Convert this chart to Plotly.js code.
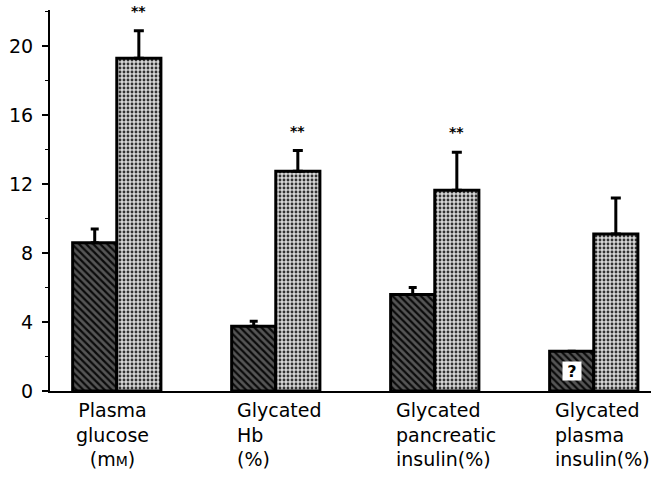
<!DOCTYPE html>
<html>
<head>
<meta charset="utf-8">
<script src="https://cdn.plot.ly/plotly-3.0.1.min.js"></script>
<style>html,body{margin:0;padding:0;background:#fff;}</style>
</head>
<body>
<div id="chart" style="width:651px;height:477px;"></div>
<script>
const categories = ["Plasma glucose", "Glycated Hb", "Glycated pancreatic insulin", "Glycated plasma insulin"];
const categoryLabels = [
  "Plasma<br>glucose<br>(m<span style='font-size:14px'>M</span>)",
  "Glycated<br>Hb<br>(%)",
  "Glycated<br>pancreatic<br>insulin(%)",
  "Glycated<br>plasma<br>insulin(%)"
];
const controlValues = [8.6, 3.75, 5.6, 2.3];
const controlErrors = [0.8, 0.3, 0.4, null];
const diabeticValues = [19.3, 12.75, 11.65, 9.1];
const diabeticErrors = [1.6, 1.2, 2.2, 2.1];
const significance = ["**", "**", "**", ""];
const uncertainMark = ["", "", "", "?"];
const yTicks = [0, 4, 8, 12, 16, 20];

const FONT = "DejaVu Sans, Arial, sans-serif";
const halfBar = 0.139;

const traces = [
  {
    type: "bar", name: "Control", x: categories, y: controlValues,
    marker: {
      color: "#333",
      line: {color: "#000", width: 3},
      pattern: {shape: "\\", bgcolor: "#555", fgcolor: "#0a0a0a", size: 5, solidity: 0.45}
    },
    error_y: {type: "data", symmetric: false, array: controlErrors,
      arrayminus: controlErrors.map(() => 0), color: "#000", thickness: 3, width: 4},
    hoverinfo: "skip"
  },
  {
    type: "bar", name: "Diabetic", x: categories, y: diabeticValues,
    marker: {
      color: "#bbb",
      line: {color: "#000", width: 3},
      pattern: {shape: ".", bgcolor: "#d6d6d6", fgcolor: "#333", size: 4, solidity: 0.4}
    },
    error_y: {type: "data", symmetric: false, array: diabeticErrors,
      arrayminus: diabeticErrors.map(() => 0), color: "#000", thickness: 3, width: 5},
    hoverinfo: "skip"
  }
];

const annotations = [];
categories.forEach((c, i) => {
  if (significance[i]) {
    annotations.push({
      x: i + halfBar, xref: "x", y: diabeticValues[i] + diabeticErrors[i] + 1.15, yref: "y",
      text: "<b>" + significance[i] + "</b>", showarrow: false,
      font: {family: FONT, size: 14, color: "#000"}, yanchor: "middle"
    });
  }
  if (uncertainMark[i]) {
    annotations.push({
      x: i - halfBar, xref: "x", y: controlValues[i] / 2, yref: "y",
      text: "<b>" + uncertainMark[i] + "</b>", showarrow: false,
      bgcolor: "#fff", borderpad: 0, width: 18, height: 18,
      font: {family: FONT, size: 16, color: "#000"}
    });
  }
  annotations.push({
    x: i === 0 ? i - 0.03 : i - 2 * halfBar + 0.02, xref: "x",
    y: 0, yref: "paper", yshift: -6,
    xanchor: i === 0 ? "center" : "left", yanchor: "top",
    align: i === 0 ? "center" : "left",
    text: categoryLabels[i], showarrow: false,
    font: {family: FONT, size: 19, color: "#000"}
  });
});

const layout = {
  width: 651, height: 477,
  margin: {l: 50, r: 0, t: 10, b: 86},
  paper_bgcolor: "#fff", plot_bgcolor: "#fff",
  showlegend: false,
  barmode: "group", bargap: 0.445, bargroupgap: 0,
  font: {family: FONT, size: 19, color: "#000"},
  xaxis: {
    type: "category", range: [-0.42, 3.36],
    showline: true, linecolor: "#000", linewidth: 2,
    showticklabels: false, ticks: "", showgrid: false, zeroline: false, fixedrange: true
  },
  yaxis: {
    range: [0, 22.1], tickvals: yTicks, ticktext: yTicks.map(String),
    showline: true, linecolor: "#000", linewidth: 2,
    ticks: "outside", ticklen: 6, tickwidth: 2, tickcolor: "#000",
    minor: {dtick: 2, ticks: "outside", ticklen: 3, tickwidth: 1.5, tickcolor: "#000", showgrid: false},
    showgrid: false, zeroline: false, ticklabelstandoff: 5,
    tickfont: {family: FONT, size: 19, color: "#000"}, fixedrange: true
  },
  annotations: annotations
};

Plotly.newPlot("chart", traces, layout, {displayModeBar: false, staticPlot: true});
</script>
</body>
</html>
